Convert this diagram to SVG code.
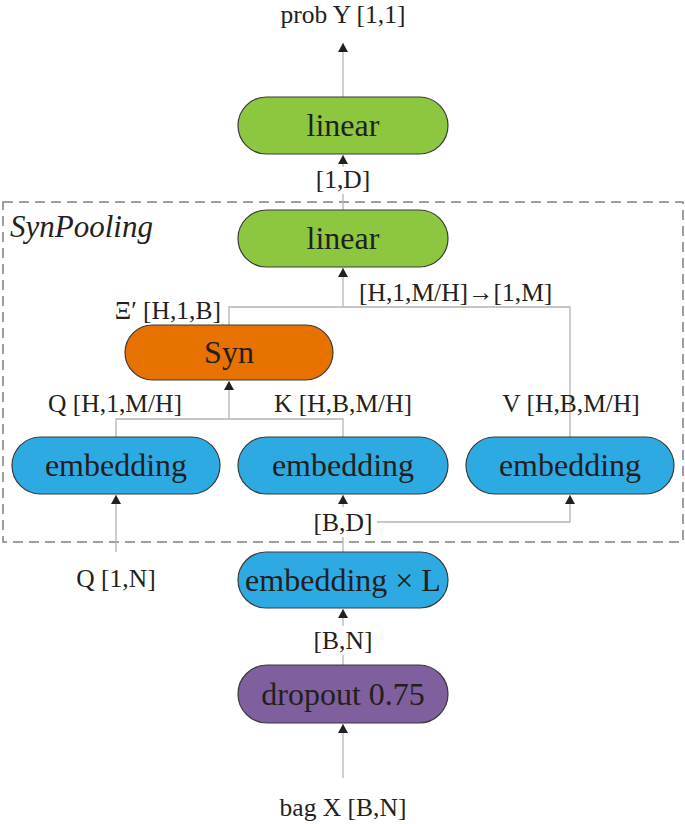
<svg xmlns="http://www.w3.org/2000/svg" width="685" height="824" viewBox="0 0 685 824">
<style>
text{font-family:"Liberation Serif","Times New Roman",serif;fill:#231f20}
.lbl{font-family:"Liberation Serif","Times New Roman",serif;font-size:25.5px;text-anchor:middle}
.nt{font-family:"Liberation Serif","Times New Roman",serif;font-size:32px;text-anchor:middle}
.node{stroke:#3a3a3a;stroke-width:1.2}
.green{fill:#8dc63f}.orange{fill:#e87200}.blue{fill:#2eaae2}.purple{fill:#7f5f9d}
.c{fill:none;stroke:#b4b4b4;stroke-width:1.3}
.a{marker-end:url(#ah)}
</style>
<defs>
<marker id="ah" markerUnits="userSpaceOnUse" markerWidth="10" markerHeight="11" refX="9" refY="5" orient="auto">
<path d="M0,0 L9,5 L0,10 Z" fill="#231f20"/>
</marker>
</defs>
<rect x="3" y="202" width="680" height="340" fill="none" stroke="#808080" stroke-width="1.5" stroke-dasharray="10,6"/>
<text x="10" y="237" style="font-size:31px;font-style:italic">SynPooling</text>
<g id="connectors">
<path class="c a" d="M343,97 V43"/>
<path class="c" d="M343,210 V194"/>
<path class="c a" d="M343,167 V155"/>
<path class="c" d="M229,325 V307 H570 V437"/>
<path class="c a" d="M343,307 V268"/>
<path class="c" d="M116,437 V419 H343 V437"/>
<path class="c a" d="M229,419 V381"/>
<path class="c a" d="M116,552 V495"/>
<path class="c" d="M343,552 V537"/>
<path class="c a" d="M343,507 V495"/>
<path class="c a" d="M377,522 H570 V495"/>
<path class="c" d="M343,665 V655"/>
<path class="c a" d="M343,626 V609"/>
<path class="c a" d="M343,778 V724"/>
</g>
<g id="linear-out"><rect class="node green" x="238" y="97" width="210" height="57" rx="28.5"/><text class="nt" x="343" y="136">linear</text></g>
<g id="linear-pool"><rect class="node green" x="238" y="210" width="210" height="57" rx="28.5"/><text class="nt" x="343" y="249">linear</text></g>
<g id="syn"><rect class="node orange" x="125" y="325" width="208" height="55" rx="27.5"/><text class="nt" x="229" y="363">Syn</text></g>
<g id="emb-q"><rect class="node blue" x="12" y="437" width="208" height="57" rx="28.5"/><text class="nt" x="116" y="476">embedding</text></g>
<g id="emb-k"><rect class="node blue" x="238" y="437" width="210" height="57" rx="28.5"/><text class="nt" x="343" y="476">embedding</text></g>
<g id="emb-v"><rect class="node blue" x="466" y="437" width="208" height="57" rx="28.5"/><text class="nt" x="570" y="476">embedding</text></g>
<g id="emb-l"><rect class="node blue" x="238" y="552" width="210" height="56" rx="28"/><text class="nt" x="343" y="591">embedding × L</text></g>
<g id="dropout"><rect class="node purple" x="238" y="665" width="210" height="58" rx="29"/><text class="nt" x="343" y="705">dropout 0.75</text></g>
<g id="labels">
<text class="lbl" x="343" y="23">prob Y [1,1]</text>
<text class="lbl" x="343" y="188">[1,D]</text>
<text class="lbl" x="221" y="319" style="text-anchor:end">Ξ′ [H,1,B]</text>
<text class="lbl" x="359" y="301" style="text-anchor:start">[H,1,M/H]→[1,M]</text>
<text class="lbl" x="115" y="412">Q [H,1,M/H]</text>
<text class="lbl" x="343" y="412">K [H,B,M/H]</text>
<text class="lbl" x="571" y="412">V [H,B,M/H]</text>
<text class="lbl" x="343" y="531">[B,D]</text>
<text class="lbl" x="116" y="587">Q [1,N]</text>
<text class="lbl" x="343" y="649">[B,N]</text>
<text class="lbl" x="343" y="816">bag X [B,N]</text>
</g>
</svg>
